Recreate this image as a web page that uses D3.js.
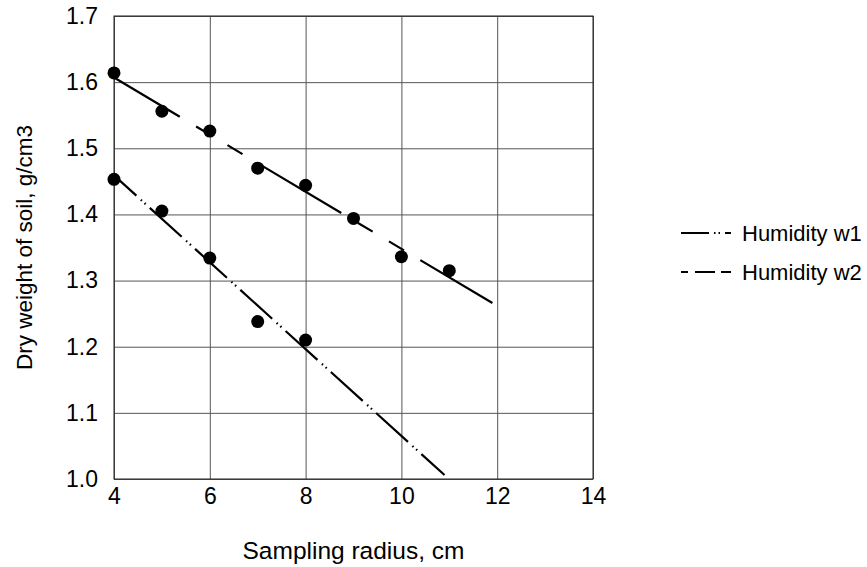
<!DOCTYPE html>
<html>
<head>
<meta charset="utf-8">
<script src="https://cdn.jsdelivr.net/npm/d3@7"></script>
<style>
  body { margin: 0; background: #fff; }
  svg text { font-family: "Liberation Sans", Arial, sans-serif; fill: #000; }
</style>
</head>
<body>
<div id="chart"></div>
<script>
// data
const radius = [4, 5, 6, 7, 8, 9, 10, 11];
const w1Values = [1.453, 1.405, 1.334, 1.238, 1.210];
const w2Values = [1.614, 1.556, 1.526, 1.470, 1.444, 1.394, 1.336, 1.315];
// trend lines (end points)
const w1Trend = [[4, 1.459], [10.9, 1.006]];
const w2Trend = [[4, 1.607], [11.9, 1.266]];
const xTicks = [4, 6, 8, 10, 12, 14];
const yTicks = [1.0, 1.1, 1.2, 1.3, 1.4, 1.5, 1.6, 1.7];
const seriesNames = ["Humidity w1", "Humidity w2"];

const margin = { top: 16, right: 274, bottom: 88, left: 114 },
      width = 867 - margin.left - margin.right,
      height = 567 - margin.top - margin.bottom;

const svg = d3.select("#chart")
  .append("svg")
  .attr("width", 867)
  .attr("height", 567);

const g = svg.append("g")
  .attr("transform", `translate(${margin.left},${margin.top})`);

const x = d3.scaleLinear().domain([4, 14]).range([0, width]);
const y = d3.scaleLinear().domain([1.0, 1.7]).range([height, 0]);

// grid
g.append("g")
  .attr("class", "grid")
  .attr("transform", `translate(0,${height})`)
  .call(d3.axisBottom(x).tickValues(xTicks).tickSize(-height).tickFormat(""))
  .call(s => s.select(".domain").remove())
  .selectAll("line").attr("stroke", "#555");

g.append("g")
  .attr("class", "grid")
  .call(d3.axisLeft(y).tickValues(yTicks).tickSize(-width).tickFormat(""))
  .call(s => s.select(".domain").remove())
  .selectAll("line").attr("stroke", "#555");

// frame
g.append("rect")
  .attr("width", width).attr("height", height)
  .attr("fill", "none").attr("stroke", "#222").attr("stroke-width", 1);

// axis labels
const gx = g.append("g")
  .attr("transform", `translate(0,${height})`)
  .call(d3.axisBottom(x).tickValues(xTicks).tickSize(0).tickPadding(9).tickFormat(d3.format("d")));
gx.select(".domain").remove();
gx.selectAll("text").style("font-size", "23px");

const gy = g.append("g")
  .call(d3.axisLeft(y).tickValues(yTicks).tickSize(0).tickPadding(16).tickFormat(d3.format(".1f")));
gy.select(".domain").remove();
gy.selectAll("text").style("font-size", "23px");

svg.append("text")
  .attr("x", margin.left + width / 2)
  .attr("y", 559)
  .attr("text-anchor", "middle")
  .style("font-size", "24.5px")
  .text("Sampling radius, cm");

svg.append("text")
  .attr("transform", `translate(32,${margin.top + height / 2}) rotate(-90)`)
  .attr("text-anchor", "middle")
  .style("font-size", "22.5px")
  .text("Dry weight of soil, g/cm3");

// line styles
const dashW1 = "43,6,1.5,3.5,1.5,5.6";
const dashW2 = "96,19,17.5,19,17.5,19";

const line = d3.line().x(d => x(d[0])).y(d => y(d[1]));

g.append("path")
  .datum(w1Trend)
  .attr("d", line)
  .attr("fill", "none")
  .attr("stroke", "#000")
  .attr("stroke-width", 2.2)
  .attr("stroke-dasharray", dashW1)
  .attr("stroke-dashoffset", 12.8);

g.append("path")
  .datum(w2Trend)
  .attr("d", line)
  .attr("fill", "none")
  .attr("stroke", "#000")
  .attr("stroke-width", 2.2)
  .attr("stroke-dasharray", dashW2)
  .attr("stroke-dashoffset", 19.4);

// markers
g.selectAll("circle.w1")
  .data(w1Values)
  .enter()
  .append("circle")
  .attr("class", "w1")
  .attr("cx", (d, i) => x(radius[i]))
  .attr("cy", d => y(d))
  .attr("r", 6.5)
  .attr("fill", "#000");

g.selectAll("circle.w2")
  .data(w2Values)
  .enter()
  .append("circle")
  .attr("class", "w2")
  .attr("cx", (d, i) => x(radius[i]))
  .attr("cy", d => y(d))
  .attr("r", 6.5)
  .attr("fill", "#000");

// legend
const legend = svg.append("g").attr("transform", "translate(681,233)");
const legendDashes = ["28,5,1.5,3,1.5,5,30", "7,7,20,6,20"];
seriesNames.forEach((name, i) => {
  const row = legend.append("g").attr("transform", `translate(0,${i * 39})`);
  row.append("line")
    .attr("x1", 0).attr("x2", 50)
    .attr("y1", 0).attr("y2", 0)
    .attr("stroke", "#000")
    .attr("stroke-width", 2.2)
    .attr("stroke-dasharray", legendDashes[i]);
  row.append("text")
    .attr("x", 61)
    .attr("y", 0)
    .attr("dy", "0.35em")
    .style("font-size", "22px")
    .text(name);
});
</script>
</body>
</html>
